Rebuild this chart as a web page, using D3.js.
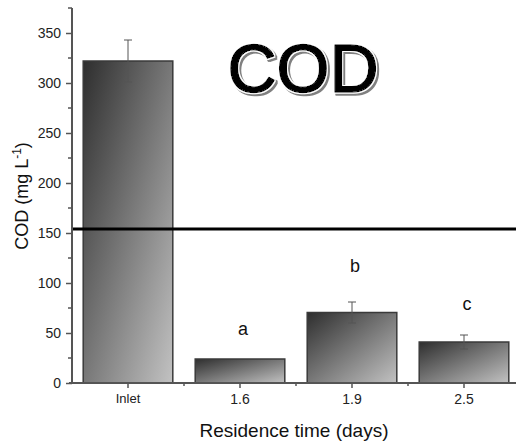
<!DOCTYPE html>
<html>
<head>
<meta charset="utf-8">
<script src="https://cdn.jsdelivr.net/npm/d3@7"></script>
<style>
  body { margin: 0; background: #ffffff; }
  text { font-family: "Liberation Sans", Arial, sans-serif; }
</style>
</head>
<body>
<script>
// chart data
var categories = ["Inlet", "1.6", "1.9", "2.5"];
var codMean = [322, 24, 70.5, 41];
var codErr = [21, 0, 10.5, 7];
var groupLetters = ["", "a", "b", "c"];
var letterAt = [0, 48, 111, 73];
var limitValue = 154;
var yTicks = [0, 50, 100, 150, 200, 250, 300, 350];
var yMinorTicks = [25, 75, 125, 175, 225, 275, 325, 375];

var width = 516;
var height = 443;

var svg = d3.select("body").append("svg")
    .attr("width", width)
    .attr("height", height);

var defs = svg.append("defs");

// gradient for the bars
var grad = defs.append("linearGradient")
    .attr("id", "barGrad")
    .attr("x1", 0).attr("y1", 0)
    .attr("x2", 1).attr("y2", 1);
grad.append("stop").attr("offset", "0%").attr("stop-color", "#2e2e2e");
grad.append("stop").attr("offset", "100%").attr("stop-color", "#c2c2c2");

// word-art look for the title: white rim + grey offset shadow
var fx = defs.append("filter")
    .attr("id", "titleFx")
    .attr("x", "-10%").attr("y", "-10%")
    .attr("width", "130%").attr("height", "130%");
fx.append("feMorphology").attr("in", "SourceAlpha").attr("operator", "dilate")
    .attr("radius", 1.4).attr("result", "dil");
fx.append("feFlood").attr("flood-color", "#ffffff").attr("result", "wht");
fx.append("feComposite").attr("in", "wht").attr("in2", "dil").attr("operator", "in").attr("result", "rim");
fx.append("feOffset").attr("in", "dil").attr("dx", 1.6).attr("dy", 1.6).attr("result", "off");
fx.append("feGaussianBlur").attr("in", "off").attr("stdDeviation", 0.5).attr("result", "blur");
fx.append("feFlood").attr("flood-color", "#808080").attr("result", "gry");
fx.append("feComposite").attr("in", "gry").attr("in2", "blur").attr("operator", "in").attr("result", "shd");
var merge = fx.append("feMerge");
merge.append("feMergeNode").attr("in", "shd");
merge.append("feMergeNode").attr("in", "rim");
merge.append("feMergeNode").attr("in", "SourceGraphic");

var x = d3.scaleBand()
    .domain(categories)
    .range([72, 520])
    .paddingInner(0.2)
    .paddingOuter(0.1);

var y = d3.scaleLinear()
    .domain([0, 375])
    .range([383, 8]);

var axisColor = "#555555";

// bars
svg.selectAll("rect.bar")
    .data(categories)
    .enter().append("rect")
    .attr("class", "bar")
    .attr("x", function(d) { return x(d); })
    .attr("width", x.bandwidth())
    .attr("y", function(d, i) { return y(codMean[i]); })
    .attr("height", function(d, i) { return y(0) - y(codMean[i]); })
    .attr("fill", "url(#barGrad)")
    .attr("stroke", "#3a3a3a")
    .attr("stroke-width", 1.5);

// error bars
var eb = svg.selectAll("g.err")
    .data(categories.filter(function(d, i) { return codErr[i] > 0; }))
    .enter().append("g")
    .attr("class", "err")
    .attr("stroke", "#555555")
    .attr("stroke-width", 1);
eb.each(function(d) {
    var i = categories.indexOf(d);
    var cx = x(d) + x.bandwidth() / 2;
    var g = d3.select(this);
    g.append("line").attr("x1", cx).attr("x2", cx)
        .attr("y1", y(codMean[i] + codErr[i])).attr("y2", y(codMean[i] - codErr[i]));
    g.append("line").attr("x1", cx - 4).attr("x2", cx + 4)
        .attr("y1", y(codMean[i] + codErr[i])).attr("y2", y(codMean[i] + codErr[i]));
    g.append("line").attr("x1", cx - 4).attr("x2", cx + 4)
        .attr("y1", y(codMean[i] - codErr[i])).attr("y2", y(codMean[i] - codErr[i]));
});

// group letters
svg.selectAll("text.letter")
    .data(categories)
    .enter().append("text")
    .attr("class", "letter")
    .attr("x", function(d) { return x(d) + x.bandwidth() / 2 + 3; })
    .attr("y", function(d, i) { return y(letterAt[i]); })
    .attr("text-anchor", "middle")
    .attr("font-size", "18px")
    .attr("fill", "#111")
    .text(function(d, i) { return groupLetters[i]; });

// y axis
var yAxis = d3.axisLeft(y).tickValues(yTicks).tickSize(6).tickPadding(5);
var gy = svg.append("g").attr("transform", "translate(72,0)").call(yAxis);
gy.select(".domain").remove();
gy.selectAll(".tick line").attr("stroke", axisColor).attr("stroke-width", 1.5);
gy.selectAll(".tick text").attr("font-size", "14px").attr("fill", "#222")
    .attr("font-family", "Liberation Sans, Arial, sans-serif");
svg.append("g").selectAll("line")
    .data(yMinorTicks)
    .enter().append("line")
    .attr("x1", 68).attr("x2", 72)
    .attr("y1", function(d) { return y(d); })
    .attr("y2", function(d) { return y(d); })
    .attr("stroke", axisColor).attr("stroke-width", 1.5);
svg.append("line")
    .attr("x1", 72).attr("x2", 72)
    .attr("y1", y(375)).attr("y2", y(0) + 1)
    .attr("stroke", axisColor).attr("stroke-width", 2);

// x axis
var xAxis = d3.axisBottom(x).tickSize(5).tickPadding(6);
var gx = svg.append("g").attr("transform", "translate(0,383)").call(xAxis);
gx.select(".domain").remove();
gx.selectAll(".tick line").attr("stroke", axisColor).attr("stroke-width", 1.5);
gx.selectAll(".tick text").attr("font-size", "14px").attr("fill", "#222")
    .attr("font-family", "Liberation Sans, Arial, sans-serif");
gx.selectAll(".tick text").filter(function(d) { return d === "Inlet"; })
    .attr("font-size", "13px");
svg.append("g").selectAll("line")
    .data(categories)
    .enter().append("line")
    .attr("x1", function(d) { return x(d) + x.step() - x.step() * 0.1; })
    .attr("x2", function(d) { return x(d) + x.step() - x.step() * 0.1; })
    .attr("y1", 383).attr("y2", 386)
    .attr("stroke", axisColor).attr("stroke-width", 1.5);
svg.append("line")
    .attr("x1", 69).attr("x2", 520)
    .attr("y1", 383).attr("y2", 383)
    .attr("stroke", axisColor).attr("stroke-width", 2);

// limit line
svg.append("line")
    .attr("x1", 73).attr("x2", width)
    .attr("y1", y(limitValue)).attr("y2", y(limitValue))
    .attr("stroke", "#000").attr("stroke-width", 3);

// axis titles
svg.append("text")
    .attr("transform", "translate(28,196) rotate(-90)")
    .attr("text-anchor", "middle")
    .attr("font-size", "18px")
    .attr("fill", "#111")
    .html('COD (mg L<tspan dy="-7" font-size="12px">-1</tspan><tspan dy="7">)</tspan>');

svg.append("text")
    .attr("x", 294)
    .attr("y", 437)
    .attr("text-anchor", "middle")
    .attr("font-size", "19px")
    .attr("fill", "#111")
    .text("Residence time (days)");

// big title
svg.append("text")
    .attr("x", 303).attr("y", 92)
    .attr("text-anchor", "middle")
    .attr("font-family", "'Open Sans', 'DejaVu Sans', sans-serif")
    .attr("font-size", "68px")
    .attr("fill", "#000")
    .attr("stroke", "#000")
    .attr("stroke-width", 1.6)
    .attr("stroke-linejoin", "round")
    .attr("filter", "url(#titleFx)")
    .text("COD");
</script>
</body>
</html>
